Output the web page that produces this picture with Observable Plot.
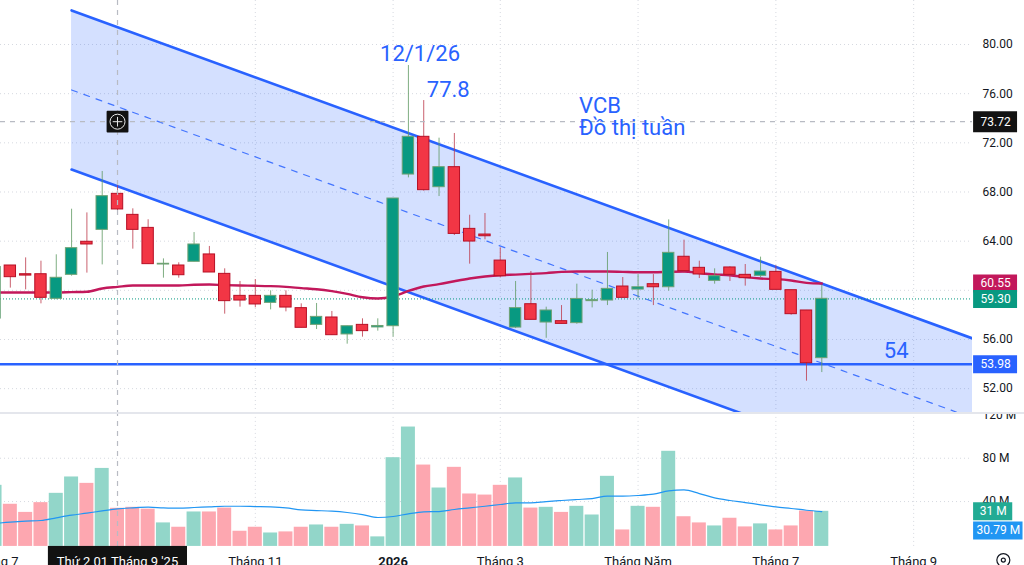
<!DOCTYPE html>
<html>
<head>
<meta charset="utf-8">
<script src="https://cdn.jsdelivr.net/npm/d3@7"></script>
<script src="https://cdn.jsdelivr.net/npm/@observablehq/plot@0.6"></script>
<style>
html,body{margin:0;padding:0;background:#fff;overflow:hidden}
#chart svg{display:block}
#chart{width:1024px;height:565px}
</style>
</head>
<body>
<div id="chart"></div>
<script>
const firstWeek = "2025-07-07";
const opens  = [57.7,62.02,61.31,61.31,59.31,61.26,63.95,64.92,67.85,66.14,65.08,62.1,62.02,62.32,62.92,61.34,59.55,59.55,58.98,59.55,58.55,57.19,57.79,56.41,57.19,56.98,57.08,69.42,72.49,68.39,70.02,65,64.54,62.42,56.97,58.87,57.38,57.49,57.33,59.12,59.17,60.31,60.06,60.5,60.25,62.73,61.83,60.77,61.86,61.26,61.18,61.5,60.01,58.36,54.48];
const closes = [61.9,61.07,61.2,59.39,61.02,63.43,63.73,67.66,66.58,64.92,62.13,62.16,61.23,63.73,61.45,59.12,59.17,58.85,59.55,58.6,56.95,57.84,56.35,57.08,56.68,57.1,67.47,72.49,68.15,70.02,64.59,63.97,64.4,61.15,58.55,57.6,58.36,57.27,59.3,59.2,60.12,59.39,60.25,60.25,63.05,61.56,61.29,61.15,61.26,60.99,61.53,60.04,58.06,54.07,59.31];
const highs  = [62.2,62.02,62.64,62.37,62.89,66.6,66.3,69.67,68.5,66.63,65.74,62.56,62.24,64.7,63.57,61.75,60.72,60.88,59.96,59.96,58.9,58.93,58.28,57.08,57.68,57.68,67.47,78.29,75.44,72.38,72.76,66.11,66.25,63.46,60.72,61.53,58.63,58.76,60.5,60.01,63.08,61.04,61.28,61.28,65.73,64.08,62.37,61.75,61.91,62.1,62.7,62,60.01,58.36,60.39];
const lows   = [57.2,60.18,60.04,58.9,59.23,61.15,61.4,62.07,66.09,63.35,62.13,60.99,60.99,62.32,61.45,58.06,58.63,58.58,58.41,58.25,56.95,56.81,56.35,55.62,56.19,56.68,56.19,69.15,68.07,67.63,64.46,62.13,64.11,61.01,56.89,57.6,56.1,57.27,57.24,58.57,58.76,59.39,59.3,58.76,59.93,61.4,60.96,60.5,60.72,60.34,61.02,60.04,57.98,52.61,53.31];
const priceMA = [59.82,59.82,59.82,59.82,59.82,59.85,59.88,60.15,60.28,60.39,60.39,60.39,60.39,60.45,60.47,60.42,60.39,60.37,60.34,60.28,60.18,60.09,59.93,59.71,59.44,59.33,59.5,59.95,60.31,60.5,60.74,60.96,61.12,61.23,61.28,61.34,61.4,61.5,61.53,61.53,61.53,61.5,61.47,61.47,61.5,61.53,61.4,61.29,61.23,61.07,60.96,60.91,60.8,60.61,60.55];
const volumes = [55,37.5,30,39,47.6,62.7,56.8,70.6,33.8,34.7,33,20.3,16.3,30.4,30.4,34,12.6,16.3,11,12,16.3,18.4,16.3,19,17.5,7.4,80.5,108.8,73.7,52.5,71.6,47,46,55,61.8,34,34.7,30,35.6,27.6,63.3,13.8,35.6,34.7,86.4,26,20.3,17.5,24.6,16.6,19.4,13.8,17.5,31.3,31];
const volumeMA = [19.8,21,21.9,22.5,25,27.4,29.3,31.4,33.3,34.2,34.8,34.2,33.9,34.5,35.1,35.7,35.7,35.4,35.1,34.2,32.3,31.7,31.1,29.9,28,25.3,26.2,28.7,30.5,30.8,32.7,34.2,35.7,37.3,38.8,38.8,40,41,41.9,42.8,45,45,45.6,46.8,49.9,50.8,47.4,43.4,41,39.1,37,35.1,33.6,32,30.79];

const channelDates = ["2025-08-11","2026-09-27"];
const channelUpper = [82.77,56.08];
const channelLower = [69.83,43.14];
const channelMiddle = [76.30,49.61];

const priceTicks = [80,76,72,68,64,56,52];
const priceGrid = [80,76,72,68,64,60,56,52];
const volumeTicks = [120,80,40];
const axisDates = ["2025-07-07","2025-09-01","2025-11-03","2026-01-05","2026-02-23","2026-04-27","2026-06-29","2026-08-31"];
const axisLabels = ["Tháng 7","","Tháng 11","2026","Tháng 3","Tháng Năm","Tháng 7","Tháng 9"];
const supportLevel = 53.98, cursorLevel = 73.72, closeLevel = 59.30, maLevel = 60.55;
const cursorDate = "2025-09-01";
const lastVolume = 31, lastVolumeMA = 30.79;

const BLUE="#2962ff", GREEN="#089981", RED="#f23645", INK="#121212";
const date = s => new Date(s+"T00:00:00Z");
const shift = (d,n) => new Date(+d + n*864e5);
const start = date(firstWeek), cursor = date(cursorDate);
const xDomain = [shift(cursor,-53.5), shift(cursor,390.9)];
const bars = opens.map((o,i)=>({date:shift(start,7*i),open:o,close:closes[i],high:highs[i],low:lows[i],ma:priceMA[i],vol:volumes[i],vma:volumeMA[i],up:closes[i]>=o}));
const channel = channelDates.map((d,i)=>({date:date(d),upper:channelUpper[i],lower:channelLower[i],middle:channelMiddle[i]}));
const ticks = axisDates.map(date);
const labelOf = new Map(ticks.map((d,i)=>[+d,axisLabels[i]]));
const boxL = shift(cursor,391.4);

function box(y,text,fill,to,opt={}){
  const boxR = shift(cursor,to), mid = shift(cursor,(391.4+to)/2);
  return [
    Plot.ruleY([y],{x1:boxL,x2:boxR,stroke:fill,strokeWidth:opt.h||18,dy:opt.dy||0}),
    Plot.text([y],{x:mid,y:d=>d,text:()=>text,fill:"#fff",fontSize:12,dy:opt.dy||0})
  ];
}
const note = (d,y,t,anchor="middle") => Plot.text([0],{x:()=>d,y:()=>y,text:()=>t,fill:BLUE,fontSize:22,textAnchor:anchor});

const pricePlot = Plot.plot({
  width:1024,height:413,marginLeft:0,marginRight:52,marginTop:0,marginBottom:1,
  style:{fontFamily:"Roboto, sans-serif",fontSize:"12px",background:"#fff",color:"#131722",overflow:"visible"},
  x:{type:"utc",domain:xDomain,axis:null},
  y:{domain:[50.06,83.58],axis:null},
  marks:[
    Plot.ruleY(priceGrid,{stroke:"#d6d9e0",strokeDasharray:"1 3"}),
    Plot.ruleX(ticks.slice(2),{stroke:"#d6d9e0",strokeDasharray:"1 3"}),
    Plot.areaY(channel,{x:"date",y1:"lower",y2:"upper",fill:BLUE,fillOpacity:0.2,clip:true}),
    Plot.line(channel,{x:"date",y:"middle",stroke:BLUE,strokeOpacity:.85,strokeWidth:1.2,strokeDasharray:"6 7",clip:true}),
    Plot.line(channel,{x:"date",y:"upper",stroke:BLUE,strokeWidth:2.6,clip:true}),
    Plot.line(channel,{x:"date",y:"lower",stroke:BLUE,strokeWidth:2.6,clip:true}),
    Plot.ruleY([supportLevel],{stroke:BLUE,strokeWidth:2.6}),
    Plot.ruleY([closeLevel],{stroke:GREEN,strokeWidth:1,strokeDasharray:"1 2"}),
    Plot.line(bars,{x:"date",y:"ma",stroke:"#c2185b",strokeWidth:2.4,curve:"monotone-x"}),
    Plot.ruleX(bars,{x:"date",y1:"low",y2:"high",stroke:d=>d.up?"#5f9a63":"#bd3a4b",strokeOpacity:.8,strokeWidth:1}),
    Plot.rect(bars,{x1:d=>shift(d.date,-2.6),x2:d=>shift(d.date,2.6),y1:"open",y2:"close",fill:d=>d.up?GREEN:RED,stroke:d=>d.up?"#6fa274":"#b70f25",strokeWidth:1}),
    Plot.ruleY([cursorLevel],{stroke:"#b8bbc3",strokeDasharray:"5 5",strokeWidth:1.2}),
    Plot.ruleX([cursor],{stroke:"#b8bbc3",strokeDasharray:"5 5",strokeWidth:1.2}),
    note(shift(cursor,138.3),79.2,"12/1/26"),
    note(shift(cursor,151.2),76.3,"77.8"),
    note(shift(cursor,211),75.0,"VCB","start"),
    note(shift(cursor,211),73.2,"Đồ thị tuần","start"),
    note(shift(cursor,356),55.05,"54"),
    Plot.axisY({anchor:"right",ticks:priceTicks,tickSize:0,tickPadding:10,tickFormat:d3.format(".2f"),label:null}),
    ...box(maLevel,"60.55","#c2185b",411.5),
    ...box(closeLevel,"59.30",GREEN,411.5),
    ...box(supportLevel,"53.98",BLUE,411.5),
    ...box(cursorLevel,"73.72",INK,411.5,{h:21}),
    Plot.dot([0],{x:()=>cursor,y:()=>cursorLevel,symbol:"square",r:11.2,fill:INK,stroke:INK,strokeWidth:2,strokeLinejoin:"round"}),
    Plot.dot([0],{x:()=>cursor,y:()=>cursorLevel,r:7.5,fill:"none",stroke:"#e8e8e8",strokeWidth:1}),
    Plot.dot([0],{x:()=>cursor,y:()=>cursorLevel,symbol:"plus",r:3.2,stroke:"#e8e8e8",strokeWidth:1})
  ]
});

const volumePlot = Plot.plot({
  width:1024,height:152,marginLeft:0,marginRight:52,marginTop:0,marginBottom:19,
  style:{fontFamily:"Roboto, sans-serif",fontSize:"12px",background:"#fff",color:"#131722",overflow:"hidden"},
  x:{type:"utc",domain:xDomain,axis:null},
  y:{domain:[0,120],range:[131.4,1.4],axis:null},
  marks:[
    Plot.ruleY(volumeTicks.slice(1),{stroke:"#d6d9e0",strokeDasharray:"1 3"}),
    Plot.ruleX(ticks.slice(2),{y1:-1.4,y2:120,stroke:"#d6d9e0",strokeDasharray:"1 3"}),
    Plot.rect(bars,{x1:d=>shift(d.date,-3.2),x2:d=>shift(d.date,3.2),y1:-1.4,y2:"vol",fill:d=>d.up?"#92d6c9":"#fda7b0"}),
    Plot.line(bars,{x:"date",y:"vma",stroke:"#2196f3",strokeWidth:1.2,curve:"monotone-x"}),
    Plot.ruleX([cursor],{y1:-1.4,y2:125,stroke:"#b8bbc3",strokeDasharray:"5 5",strokeWidth:1.2}),
    Plot.axisY({anchor:"right",ticks:volumeTicks,tickSize:0,tickPadding:10,tickFormat:d=>d+" M",label:null}),
    Plot.axisX({anchor:"bottom",ticks:ticks.filter((d,i)=>axisLabels[i]&&axisLabels[i]!=="2026"),tickSize:0,tickPadding:10,fontSize:13,tickFormat:d=>labelOf.get(+d),label:null}),
    Plot.axisX({anchor:"bottom",ticks:ticks.filter((d,i)=>axisLabels[i]==="2026"),tickSize:0,tickPadding:10,fontSize:13,tickFormat:d=>labelOf.get(+d),fontWeight:"bold",label:null}),
    Plot.rect([0],{x1:()=>shift(cursor,-31.6),x2:()=>shift(cursor,32),y1:()=>-1.4,y2:()=>-19,fill:INK}),
    Plot.text([0],{x:()=>cursor,y:()=>-15.6,text:()=>"Thứ 2 01 Tháng 9 '25",fill:"#fff",fontSize:13}),
    ...box(lastVolume,"31 M","#22ab94",409.3),
    ...box(lastVolumeMA,"30.79 M","#2196f3",414,{dy:19}),
    Plot.dot([0],{x:()=>shift(cursor,405),y:()=>-14,r:6.5,fill:"none",stroke:"#131722",strokeWidth:1.2}),
    Plot.dot([0],{x:()=>shift(cursor,405),y:()=>-14,r:2,fill:"none",stroke:"#131722",strokeWidth:1.2})
  ]
});

const sep = document.createElement("div");
sep.style.cssText="position:absolute;left:0;top:412px;width:1024px;height:2px;background:#e4e6ec";
document.getElementById("chart").append(pricePlot,volumePlot,sep);
</script>
</body>
</html>
